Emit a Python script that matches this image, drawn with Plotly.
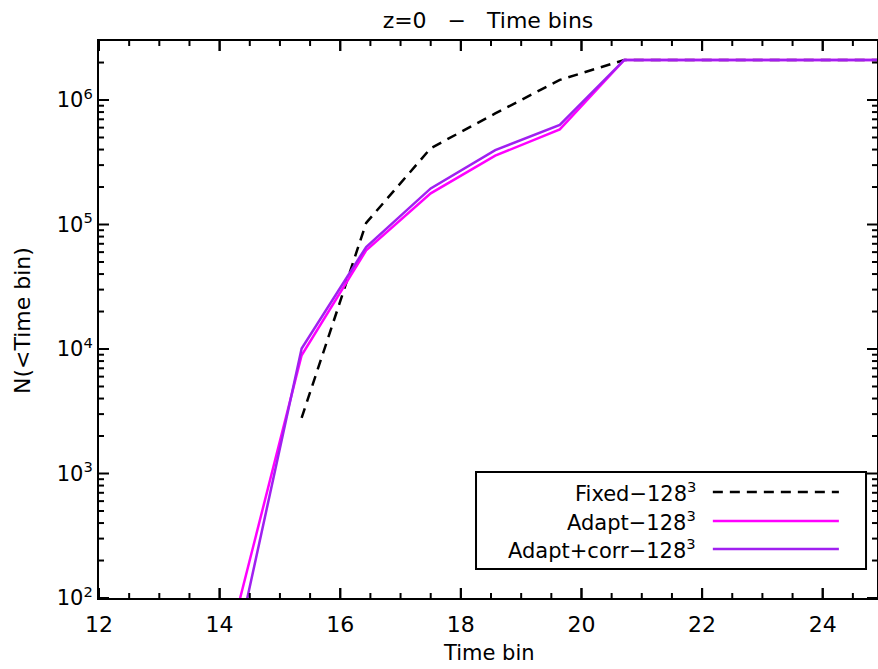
import math
import plotly.graph_objects as go

# Data
x_fixed = [15.36, 16.43, 17.50, 18.57, 19.64, 20.71, 21.78, 22.85, 23.92, 24.99]
n_fixed = [2.8e3, 1.03e5, 4.1e5, 7.8e5, 1.45e6, 2097152, 2097152, 2097152, 2097152, 2097152]

x_adapt = [14.29, 15.36, 16.43, 17.50, 18.57, 19.64, 20.71, 21.78, 22.85, 23.92, 24.99]
n_adapt = [80, 8.9e3, 6.2e4, 1.78e5, 3.57e5, 5.8e5, 2097152, 2097152, 2097152, 2097152, 2097152]

x_corr = [14.29, 15.36, 16.43, 17.50, 18.57, 19.64, 20.71, 21.78, 22.85, 23.92, 24.99]
n_corr = [42, 1.01e4, 6.6e4, 1.95e5, 3.96e5, 6.3e5, 2097152, 2097152, 2097152, 2097152, 2097152]

series_names = ["Fixed\u2212128<sup>3</sup>", "Adapt\u2212128<sup>3</sup>", "Adapt+corr\u2212128<sup>3</sup>"]
series_colors = ["black", "#ff00ff", "#a020f0"]
series_dash = ["10px,7px", "solid", "solid"]

x_tickvals = [12, 14, 16, 18, 20, 22, 24]
x_minor = [12 + 0.5 * i for i in range(26)]
y_tickvals = [1e2, 1e3, 1e4, 1e5, 1e6]
y_ticktext = ["10<sup>2</sup>", "10<sup>3</sup>", "10<sup>4</sup>", "10<sup>5</sup>", "10<sup>6</sup>"]
y_minor = [k * 10 ** e for e in range(2, 7) for k in range(2, 10)]

FONT = "DejaVu Sans"
NB = "\u00a0"
XR = [12, 24.90]
YR = [2, 6.474]

fig = go.Figure()
for xs, ys, name, col, dash in zip([x_fixed, x_adapt, x_corr], [n_fixed, n_adapt, n_corr],
                                   series_names, series_colors, series_dash):
    fig.add_trace(go.Scatter(x=xs, y=ys, mode="lines", name=name,
                             line=dict(color=col, width=2.5, dash=dash),
                             showlegend=False, cliponaxis=True))

# Tick marks (IDL style: inside, on all four sides), drawn as pixel-sized shapes
TICK = dict(color="black", width=2)
for xv in x_minor + x_tickvals:
    if not (XR[0] <= xv <= XR[1]):
        continue
    L = 10 if xv in x_tickvals else 5
    fig.add_shape(type="line", xref="x", yref="paper", x0=xv, x1=xv, ysizemode="pixel",
                  yanchor=0, y0=0, y1=L, line=TICK, layer="above")
    fig.add_shape(type="line", xref="x", yref="paper", x0=xv, x1=xv, ysizemode="pixel",
                  yanchor=1, y0=0, y1=-L, line=TICK, layer="above")
for yv in y_minor + y_tickvals:
    ly = math.log10(yv)
    if not (YR[0] <= ly <= YR[1]):
        continue
    yp = (ly - YR[0]) / (YR[1] - YR[0])
    L = 10 if yv in y_tickvals else 5
    fig.add_shape(type="line", xref="paper", yref="paper", y0=yp, y1=yp, xsizemode="pixel",
                  xanchor=0, x0=0, x1=L, line=TICK, layer="above")
    fig.add_shape(type="line", xref="paper", yref="paper", y0=yp, y1=yp, xsizemode="pixel",
                  xanchor=1, x0=0, x1=-L, line=TICK, layer="above")

# Manual legend (IDL style: text right-aligned, sample line to the right)
fig.add_shape(type="rect", xref="paper", yref="paper", x0=0.4846, x1=0.9859, y0=0.0521, y1=0.2262,
              line=dict(color="black", width=2), fillcolor="white", layer="above")
rows_y = [0.1903, 0.1382, 0.088]
for name, col, dash, yy in zip(series_names, series_colors, series_dash, rows_y):
    fig.add_annotation(xref="paper", yref="paper", x=0.770, y=yy, text=name, showarrow=False,
                       xanchor="right", yanchor="middle", font=dict(family=FONT, size=21, color="black"))
    fig.add_shape(type="line", xref="paper", yref="paper", x0=0.789, x1=0.951, y0=yy, y1=yy,
                  line=dict(color=col, width=2.5, dash=dash), layer="above")

# Axis titles as annotations
fig.add_annotation(xref="paper", yref="paper", x=0.501, y=-0.0987, text="Time" + NB + "bin",
                   showarrow=False, xanchor="center", yanchor="middle",
                   font=dict(family=FONT, size=21, color="black"))
fig.add_annotation(xref="paper", yref="paper", x=-0.099, y=0.499, text="N(<Time" + NB + "bin)",
                   showarrow=False, xanchor="center", yanchor="middle", textangle=-90,
                   font=dict(family=FONT, size=22, color="black"))

fig.update_layout(
    template="none",
    width=878, height=669,
    margin=dict(l=99, r=1, t=41, b=71, autoexpand=False),
    paper_bgcolor="white", plot_bgcolor="white",
    font=dict(family=FONT, size=22, color="black"),
    title=dict(text="z=0" + NB * 3 + "\u2212" + NB * 3 + "Time" + NB + "bins", x=0.5558, xanchor="center",
               xref="container", yref="container", y=0.969, yanchor="middle", automargin=False,
               font=dict(family=FONT, size=22, color="black")),
    showlegend=False,
    xaxis=dict(range=XR, tickvals=x_tickvals, ticks="", ticklabelstandoff=6,
               showline=True, linewidth=2, linecolor="black", mirror=True, showgrid=False, zeroline=False,
               automargin=False, tickfont=dict(family=FONT, size=22, color="black")),
    yaxis=dict(type="log", range=YR, tickvals=y_tickvals, ticktext=y_ticktext, ticks="",
               showline=True, linewidth=2, linecolor="black", mirror=True, showgrid=False, zeroline=False,
               automargin=False, tickfont=dict(family=FONT, size=21, color="black")),
)

fig.write_html("out.html", config={"displayModeBar": False},
               post_script="document.body.style.margin='0px';")
